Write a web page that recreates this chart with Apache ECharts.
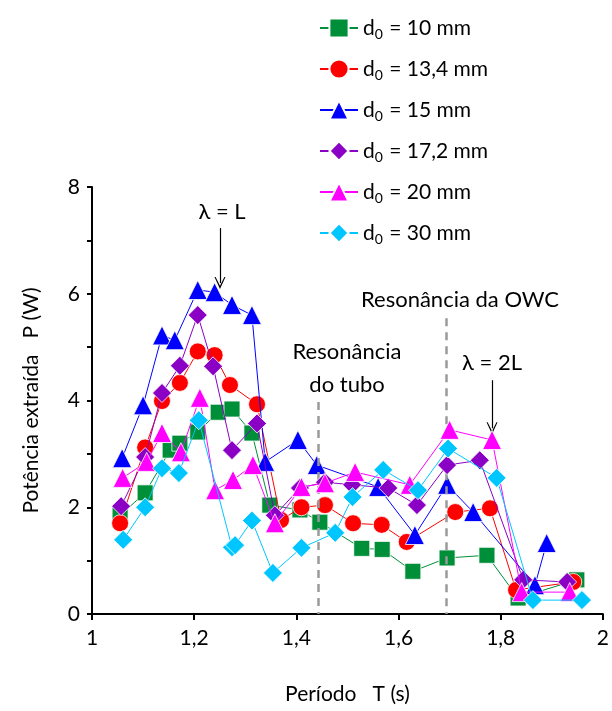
<!DOCTYPE html>
<html><head><meta charset="utf-8">
<script src="https://cdn.jsdelivr.net/npm/echarts@6/dist/echarts.min.js"></script>
<style>html,body{margin:0;padding:0;background:#fff}#c{width:612px;height:711px}</style>
</head><body><div id="c"></div>
<script>
const seriesNames = ['d0 = 10 mm','d0 = 13,4 mm','d0 = 15 mm','d0 = 17,2 mm','d0 = 20 mm','d0 = 30 mm'];
const d10 = [[1.055,1.85],[1.104,2.27],[1.153,3.07],[1.172,3.2],[1.207,3.41],[1.247,3.78],[1.274,3.84],[1.313,3.39],[1.348,2.04],[1.407,1.95],[1.446,1.72],[1.528,1.23],[1.568,1.21],[1.628,0.8],[1.695,1.05],[1.773,1.1],[1.834,0.3],[1.949,0.64]];
const d134 = [[1.055,1.70],[1.104,3.12],[1.137,3.99],[1.172,4.33],[1.207,4.92],[1.24,4.85],[1.27,4.29],[1.323,3.93],[1.37,1.76],[1.41,2.0],[1.456,2.04],[1.511,1.7],[1.567,1.67],[1.616,1.35],[1.711,1.91],[1.779,1.98],[1.83,0.45],[1.942,0.6]];
const d15 = [[1.059,2.92],[1.10,3.91],[1.137,5.22],[1.162,5.13],[1.207,6.07],[1.24,6.03],[1.274,5.79],[1.313,5.6],[1.339,2.85],[1.403,3.26],[1.44,2.79],[1.56,2.38],[1.632,1.48],[1.695,2.42],[1.746,1.91],[1.867,0.54],[1.89,1.33]];
const d172 = [[1.057,2.02],[1.104,2.94],[1.137,4.14],[1.172,4.65],[1.207,5.6],[1.237,4.64],[1.274,3.07],[1.323,3.57],[1.358,1.85],[1.407,2.36],[1.456,2.47],[1.509,2.42],[1.58,2.36],[1.636,2.04],[1.695,2.79],[1.759,2.88],[1.844,0.64],[1.93,0.6]];
const d20 = [[1.06,2.55],[1.107,2.85],[1.137,3.39],[1.174,3.03],[1.211,4.05],[1.241,2.32],[1.276,2.51],[1.315,2.79],[1.358,1.7],[1.41,2.38],[1.456,2.45],[1.515,2.66],[1.622,2.42],[1.70,3.45],[1.783,3.26],[1.841,0.41],[1.935,0.41]];
const d30 = [[1.061,1.39],[1.104,2.0],[1.137,2.73],[1.170,2.64],[1.209,3.63],[1.274,1.25],[1.28,1.29],[1.313,1.75],[1.354,0.77],[1.41,1.24],[1.476,1.52],[1.51,2.19],[1.57,2.70],[1.638,2.32],[1.697,3.1],[1.792,2.55],[1.863,0.26],[1.959,0.26]];
const seriesData = [d10,d134,d15,d172,d20,d30];
const colors = ['#008f39','#ff0000','#0000ff','#8a00c4','#ff00ff','#00c6ff'];
const symbols = ['rect','circle','triangle','diamond','triangle','diamond'];
const symbolSizes = [16,17,19,19,19,19];
const xTicks = [1,1.2,1.4,1.6,1.8,2];
const yTicks = [0,2,4,6,8];
const resonanceLines = [[1.442,3.97],[1.693,5.54]];
const arrows = [[1.2505,7.23,6.2],[1.783,4.38,3.48]];

const FONT = 'Lato';
const chart = echarts.init(document.getElementById('c'));
const series = seriesData.map((d,i)=>({
  name: seriesNames[i], type:'line', data:d, symbol:symbols[i], symbolSize:symbolSizes[i],
  lineStyle:{color:colors[i], width:1}, itemStyle:{color:colors[i], borderColor:'#fff', borderWidth:0.8},
  z: 2+i, animation:false
}));
series.push({
  type:'line', data:[], silent:true, animation:false,
  markLine:{
    silent:true, symbol:['none','none'], label:{show:false}, animation:false,
    lineStyle:{color:'#9a9a9a', type:[8,6], width:2.5},
    data: resonanceLines.map(r=>[{coord:[r[0],r[1]]},{coord:[r[0],0]}])
  }
});
series.push({
  type:'line', data:[], silent:true, animation:false,
  markLine:{
    silent:true, symbol:['none','path://M0,9L5,0L10,9L9,9L5,2.5L1,9Z'], symbolSize:[11,12], label:{show:false}, animation:false,
    lineStyle:{color:'#000', type:'solid', width:1.2},
    data: arrows.map(a=>[{coord:[a[0],a[1]]},{coord:[a[0],a[2]]}])
  }
});

chart.setOption({
  animation:false,
  textStyle:{fontFamily:FONT},
  grid:{left:92,right:9,top:187,bottom:97},
  xAxis:{type:'value',min:1,max:2,interval:0.2,
    axisLine:{lineStyle:{color:'#000',width:2}},
    axisTick:{inside:false,length:6,lineStyle:{color:'#000',width:2}},
    axisLabel:{color:'#000',fontSize:21,margin:14,fontFamily:FONT,formatter:v=>String(+v.toFixed(1)).replace('.',',')},
    splitLine:{show:false},
    name:'Período   T (s)',nameLocation:'middle',nameGap:70,nameTextStyle:{fontSize:21,color:'#000',fontFamily:FONT}
  },
  yAxis:{type:'value',min:0,max:8,interval:1,
    axisLine:{show:true,lineStyle:{color:'#000',width:2}},
    axisTick:{show:true,inside:false,length:5,lineStyle:{color:'#000',width:2}},
    axisLabel:{color:'#000',fontSize:21,margin:12,fontFamily:FONT,formatter:v=>(yTicks.indexOf(v)>=0?String(v):'')},
    splitLine:{show:false},
    name:'Potência extraída   P (W)',nameLocation:'middle',nameGap:50,nameTextStyle:{fontSize:21,color:'#000',fontFamily:FONT}
  },
  legend:{
    orient:'vertical',left:314,top:10,itemGap:15,itemWidth:38,itemHeight:24,
    data:seriesNames,
    formatter:n=>'{a|d}{s|0}{a|'+n.slice(2)+'}',
    textStyle:{color:'#000',fontSize:21,fontFamily:FONT,
      rich:{a:{fontSize:21,fontFamily:FONT,color:'#000',lineHeight:24,verticalAlign:'middle'},
            s:{fontSize:14,fontFamily:FONT,color:'#000',lineHeight:24,padding:[12,1,0,0],verticalAlign:'middle'}}}
  },
  graphic:[
    {type:'text',style:{text:'λ = L',fontSize:22,fontFamily:FONT,fill:'#000',textAlign:'center',textVerticalAlign:'middle',x:222,y:212}},
    {type:'text',style:{text:'Resonância',fontSize:22,fontFamily:FONT,fill:'#000',textAlign:'center',textVerticalAlign:'middle',x:347,y:352}},
    {type:'text',style:{text:'do tubo',fontSize:22,fontFamily:FONT,fill:'#000',textAlign:'center',textVerticalAlign:'middle',x:347,y:385}},
    {type:'text',style:{text:'Resonância da OWC',fontSize:22,fontFamily:FONT,fill:'#000',textAlign:'center',textVerticalAlign:'middle',x:460,y:300}},
    {type:'text',style:{text:'λ = 2L',fontSize:22,fontFamily:FONT,fill:'#000',textAlign:'center',textVerticalAlign:'middle',x:492,y:363}}
  ],
  series:series
});
</script></body></html>
